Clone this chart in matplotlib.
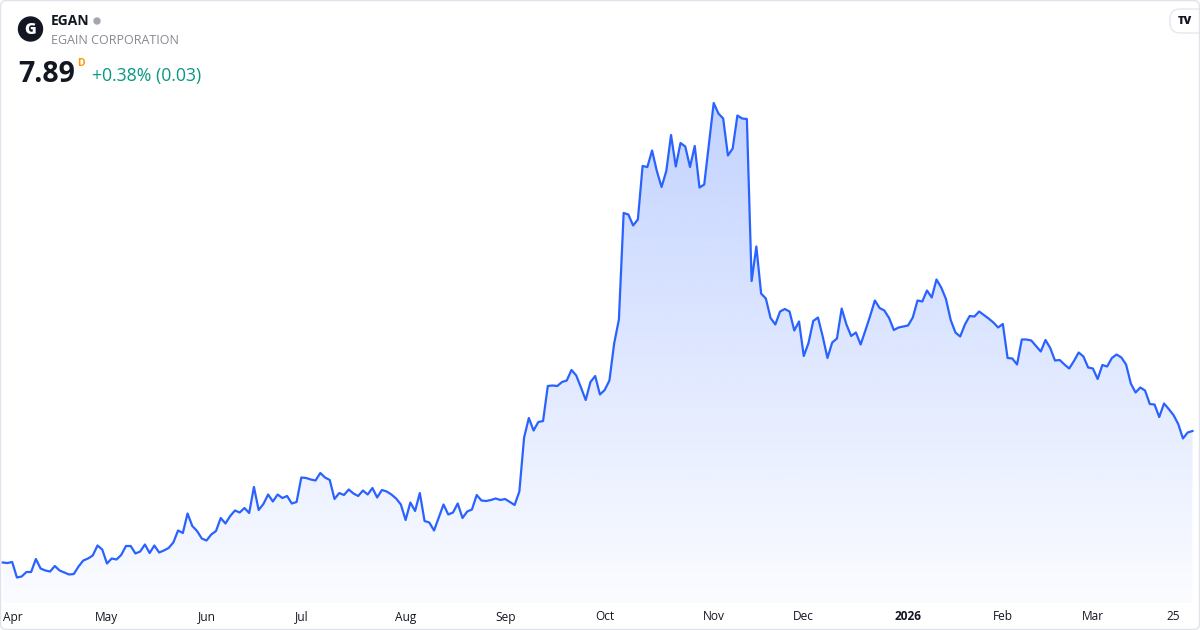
import numpy as np
import pandas as pd
import matplotlib
matplotlib.use('Agg')
import matplotlib.pyplot as plt
from matplotlib.patches import FancyBboxPatch, Ellipse

plt.rcParams['font.family'] = ['Open Sans', 'DejaVu Sans']

# daily closes, Mar 31 2025 -> Mar 31 2026
close = [
    5.26, 5.25, 5.27, 4.96, 4.98, 5.07, 5.07, 5.33, 5.14, 5.10,
    5.08, 5.19, 5.10, 5.06, 5.02, 5.03, 5.18, 5.30, 5.34, 5.40,
    5.60, 5.52, 5.24, 5.34, 5.32, 5.41, 5.59, 5.59, 5.44, 5.48,
    5.62, 5.45, 5.60, 5.46, 5.50, 5.55, 5.66, 5.90, 5.85, 6.24,
    5.99, 5.89, 5.74, 5.70, 5.82, 5.89, 6.15, 6.04, 6.19, 6.30,
    6.26, 6.35, 6.25, 6.77, 6.31, 6.43, 6.62, 6.48, 6.62, 6.55,
    6.59, 6.44, 6.47, 6.96, 6.95, 6.92, 6.90, 7.05, 6.96, 6.91,
    6.53, 6.65, 6.61, 6.72, 6.64, 6.59, 6.70, 6.62, 6.75, 6.56,
    6.71, 6.68, 6.62, 6.54, 6.42, 6.11, 6.46, 6.29, 6.65, 6.09,
    6.06, 5.90, 6.16, 6.42, 6.22, 6.26, 6.44, 6.15, 6.28, 6.32,
    6.61, 6.50, 6.49, 6.51, 6.54, 6.51, 6.53, 6.47, 6.41, 6.68,
    7.76, 8.15, 7.90, 8.07, 8.09, 8.79, 8.80, 8.79, 8.87, 8.90,
    9.11, 9.00, 8.76, 8.51, 8.87, 8.99, 8.62, 8.71, 8.90, 9.64,
    10.12, 12.25, 12.22, 12.00, 12.12, 13.19, 13.17, 13.50, 13.09, 12.77,
    13.09, 13.81, 13.18, 13.65, 13.58, 13.17, 13.59, 12.76, 12.82, 13.64,
    14.45, 14.24, 14.14, 13.40, 13.54, 14.20, 14.14, 14.13, 10.89, 11.58,
    10.64, 10.54, 10.15, 10.02, 10.28, 10.33, 10.28, 9.90, 10.08, 9.39,
    9.65, 10.09, 10.16, 9.78, 9.35, 9.66, 9.74, 10.34, 10.02, 9.79,
    9.86, 9.62, 9.90, 10.19, 10.50, 10.35, 10.30, 10.15, 9.91, 9.96,
    9.98, 10.00, 10.16, 10.50, 10.48, 10.70, 10.56, 10.92, 10.76, 10.53,
    10.11, 9.86, 9.78, 10.02, 10.19, 10.18, 10.28, 10.21, 10.14, 10.06,
    9.96, 10.03, 9.35, 9.34, 9.22, 9.72, 9.72, 9.70, 9.59, 9.48,
    9.71, 9.55, 9.30, 9.31, 9.22, 9.14, 9.29, 9.46, 9.38, 9.16,
    9.14, 8.93, 9.21, 9.18, 9.35, 9.42, 9.36, 9.22, 8.84, 8.66,
    8.76, 8.70, 8.43, 8.42, 8.17, 8.44, 8.33, 8.21, 8.03, 7.74,
    7.86, 7.89,
]

holidays = ['2025-04-18', '2025-05-26', '2025-06-19', '2025-07-04', '2025-09-01',
            '2025-11-27', '2025-12-25', '2026-01-01', '2026-01-19', '2026-02-16']

tick_dates = ['2025-04-01', '2025-05-01', '2025-06-02', '2025-07-01', '2025-08-01',
              '2025-09-02', '2025-10-01', '2025-11-03', '2025-12-01', '2026-01-02',
              '2026-02-02', '2026-03-02', '2026-03-25']
tick_labels = ['Apr', 'May', 'Jun', 'Jul', 'Aug', 'Sep', 'Oct', 'Nov', 'Dec', '2026',
               'Feb', 'Mar', '25']

days = pd.bdate_range('2025-03-31', periods=len(close), freq='C', holidays=holidays)
close = np.array(close)
x = np.arange(len(close))

W, H = 1200, 630
fig = plt.figure(figsize=(12, 6.3), dpi=100)
fig.patch.set_facecolor('white')

def fx(px):
    return px / W

def fy(py):
    return 1 - py / H

ax = fig.add_axes([0, 27 / H, 1, 603 / H])
ax.set_facecolor('none')
for s in ax.spines.values():
    s.set_visible(False)

ymin, ymax = 4.45, 16.51
step = 4.74

line_color = '#2962FF'
ax.plot(x, close, color=line_color, lw=1.6, solid_joinstyle='round', zorder=3)

# gradient area under the line
poly = ax.fill_between(x, close, ymin, color='none', lw=0)
grad = np.zeros((256, 1, 4))
grad[..., 0] = 41 / 255
grad[..., 1] = 98 / 255
grad[..., 2] = 1.0
grad[:, 0, 3] = np.linspace(0.28, 0.02, 256)
im = ax.imshow(grad, extent=[x[0], x[-1], ymin, close.max()], aspect='auto',
               origin='upper', zorder=2, interpolation='bicubic')
im.set_clip_path(poly.get_paths()[0], transform=ax.transData)
ax.set_xlim(-2.7 / step, (W - 2.7) / step)
ax.set_ylim(ymin, ymax)

ax.set_xticks([])
ax.set_yticks([])

# month labels
xt = ax.get_xaxis_transform()
for d, lab in zip(tick_dates, tick_labels):
    pos = days.get_loc(pd.Timestamp(d))
    ha = 'center'
    if lab == 'Apr':
        pos, ha = x[0], 'left'
    ax.text(pos, -14 / 603, lab, transform=xt, ha=ha, va='center', fontsize=8.6,
            color='#131722', fontweight='bold' if lab == '2026' else 'normal',
            clip_on=False)

# header
fig.add_artist(Ellipse((fx(30.5), fy(29)), 24 / W, 24 / H, color='#131722',
                       transform=fig.transFigure))
fig.text(fx(30.5), fy(29.5), 'G', color='white', fontsize=11.5, fontweight='heavy',
         ha='center', va='center')
fig.text(fx(51), fy(21), 'EGAN', fontsize=10, fontweight='bold', color='#131722',
         ha='left', va='center')
fig.add_artist(Ellipse((fx(97), fy(21)), 6 / W, 6 / H, color='#a3a6af',
                       transform=fig.transFigure))
fig.text(fx(51), fy(40.5), 'EGAIN CORPORATION', fontsize=9, color='#868993',
         ha='left', va='center')
fig.text(fx(18), fy(81.5), '7.89', fontsize=20.5, fontweight='bold', color='#131722',
         ha='left', va='baseline')
fig.text(fx(77), fy(65.5), 'D', fontsize=7.5, fontweight='bold', color='#FF9800',
         ha='left', va='baseline')
fig.text(fx(92), fy(81.5), '+0.38% (0.03)', fontsize=12.7, color='#089981',
         ha='left', va='baseline')

# tradingview badge
fig.add_artist(FancyBboxPatch((1170, H - 33), 40, 24,
                              boxstyle='round,pad=0,rounding_size=10',
                              transform=None, facecolor='white',
                              edgecolor='#e6e8ee', lw=1))
fig.text(fx(1185), fy(21), 'TV', fontsize=8, fontweight='heavy', color='#131722',
         ha='center', va='center')

# outer border
fig.add_artist(FancyBboxPatch((0.5, 0.5), W - 1, H - 1,
                              boxstyle='round,pad=0,rounding_size=6',
                              transform=None, facecolor='none',
                              edgecolor='#e0e3eb', lw=1))

fig.savefig('out.png', dpi=100)
